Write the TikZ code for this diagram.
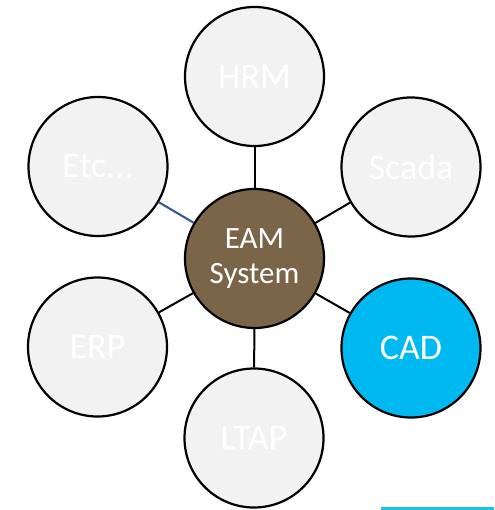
\documentclass[tikz,border=0pt]{standalone}
\usepackage{fontspec}
\setmainfont{Carlito}
\definecolor{satgray}{HTML}{F2F2F2}
\definecolor{eambrown}{HTML}{7A6548}
\definecolor{cadcyan}{HTML}{00B9F1}
\definecolor{linkblue}{HTML}{2F5597}
\begin{document}
\begin{tikzpicture}[x=1pt,y=1pt,yscale=-1,xscale=1]
	\tikzset{
		sat/.style={circle, draw=black, line width=2.2pt, fill=satgray, minimum size=139pt, inner sep=0pt, text=white, font=\fontsize{36}{38}\selectfont},
		hub/.style={sat, fill=eambrown, align=center, font=\fontsize{31}{35}\selectfont},
		link/.style={line width=2pt, black}
	}
	\useasboundingbox (0,0) rectangle (494,510);

	\node [hub] (eam) at (254.5,258.5) {EAM\\System};
	\node [sat] (hrm) at (254.5,76.5) {HRM};
	\node [sat] (scada) at (411,167) {Scada};
	\node [sat, fill=cadcyan] (cad) at (411,348) {CAD};
	\node [sat] (ltap) at (254,438) {LTAP};
	\node [sat] (erp) at (97.5,347) {ERP};
	\node [sat] (etc) at (98,166.5) {Etc...};

	\draw [link] (eam) -- (hrm) ;
	\draw [link] (eam) -- (scada) ;
	\draw [link] (eam) -- (cad) ;
	\draw [link] (eam) -- (ltap) ;
	\draw [link] (eam) -- (erp) ;
	\draw [link, linkblue] (eam) -- (etc) ;

	\fill [cadcyan!90!white] (381,506.5) rectangle (494,510) ;
\end{tikzpicture}
\end{document}
